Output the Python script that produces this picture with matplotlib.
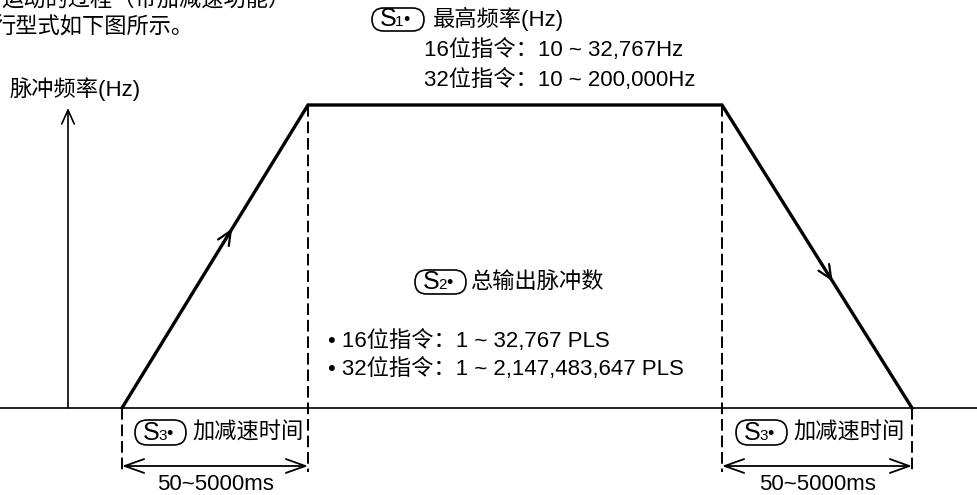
import matplotlib
matplotlib.use("Agg")
import matplotlib.pyplot as plt
from matplotlib.patches import FancyBboxPatch

plt.rcParams['font.family'] = ['Liberation Sans', 'Noto Sans CJK SC', 'DejaVu Sans']

# trapezoid speed profile (x in px, frequency as height above baseline in px)
profile_t = [122, 308, 722, 912]
profile_f = [0, 303, 303, 0]

s1_title = "最高频率(Hz)"
s1_lines = ["16位指令：10 ~ 32,767Hz", "32位指令：10 ~ 200,000Hz"]
s2_title = "总输出脉冲数"
s2_lines = ["• 16位指令：1 ~ 32,767 PLS", "• 32位指令：1 ~ 2,147,483,647 PLS"]
accel_label = "加减速时间"
accel_range = "50~5000ms"
y_label = "脉冲频率(Hz)"
intro_lines = ["运动的过程（带加减速功能）", "行型式如下图所示。"]

W, H = 978, 495
base = 408  # pixel row of baseline


def py(p):
    # convert a pixel row to the data y used below
    return base - p


fig = plt.figure(figsize=(W / 100, H / 100), dpi=100)
ax = fig.add_axes([0, 0, 1, 1])
ax.set_xlim(0, W)
ax.set_ylim(base - H, base)
ax.axis('off')

fs = 16

# baseline and vertical axis
ax.plot([0, W], [0, 0], color='black', lw=1.2)
ax.annotate('', xy=(68, py(108)), xytext=(68, 0),
            arrowprops=dict(arrowstyle='->,head_length=1.0,head_width=0.45', lw=1.2, color='black',
                            shrinkA=0, shrinkB=0))
ax.text(10, py(89), y_label, fontsize=fs, va='center', ha='left')

# trapezoid
ax.plot(profile_t, profile_f, color='black', lw=2.4, solid_joinstyle='miter')


# direction arrows on slopes
def slope_arrow(i, frac):
    x0, x1 = profile_t[i], profile_t[i + 1]
    y0, y1 = profile_f[i], profile_f[i + 1]
    xa = x0 + (x1 - x0) * frac
    ya = y0 + (y1 - y0) * frac
    dx, dy = (x1 - x0) * 0.02, (y1 - y0) * 0.02
    ax.annotate('', xy=(xa + dx, ya + dy), xytext=(xa - dx, ya - dy),
                arrowprops=dict(arrowstyle='->,head_length=1.0,head_width=0.45', lw=1.6, color='black'))


slope_arrow(0, 0.58)
slope_arrow(2, 0.57)

# dashed guide lines
dash = (0, (6, 2.5))
for x in profile_t[1:3]:
    ax.plot([x, x], [profile_f[1], py(472)], color='black', lw=1.4, linestyle=dash)
for x in (profile_t[0], profile_t[3]):
    ax.plot([x, x], [0, py(472)], color='black', lw=1.4, linestyle=dash)

# accel / decel spans
for a, b in ((profile_t[0], profile_t[1]), (profile_t[2], profile_t[3])):
    ax.annotate('', xy=(a, py(466)), xytext=(b, py(466)),
                arrowprops=dict(arrowstyle='<->,head_length=1.4,head_width=0.5', lw=1.3,
                                color='black', shrinkA=0, shrinkB=0))
    ax.text((a + b) / 2, py(484), accel_range, fontsize=fs, ha='center', va='center')


def tag(x0, top, w, h, num):
    # stadium shaped operand tag like (S1•)
    ax.add_patch(FancyBboxPatch((x0, py(top + h)), w, h,
                                boxstyle='round,pad=0,rounding_size=%g' % (h / 2),
                                fc='white', ec='black', lw=1.2))
    yb = py(top + h - 5)
    ax.text(x0 + 8, yb, "S", fontsize=fs + 2, ha='left', va='baseline')
    ax.text(x0 + 23, yb, num, fontsize=fs - 5, ha='left', va='baseline')
    ax.text(x0 + 31, yb + 1, "•", fontsize=fs - 3, ha='left', va='baseline')


# S3 labels
tag(135, 420, 51, 25, "3")
ax.text(192, py(433), accel_label, fontsize=fs, ha='left', va='center')
tag(736, 420, 51, 25, "3")
ax.text(793, py(433), accel_label, fontsize=fs, ha='left', va='center')

# S1 label
tag(372, 8, 52, 23, "1")
ax.text(433, py(19), s1_title, fontsize=fs, ha='left', va='center')
for i, s in enumerate(s1_lines):
    ax.text(424, py(50 + 30 * i), s, fontsize=fs, ha='left', va='center')

# S2 label
tag(415, 270, 51, 24, "2")
ax.text(470, py(282), s2_title, fontsize=fs, ha='left', va='center')
for i, s in enumerate(s2_lines):
    ax.text(328, py(341 + 28 * i), s, fontsize=fs, ha='left', va='center')

# cropped paragraph text at top-left
ax.text(290, py(0), intro_lines[0], fontsize=fs, ha='right', va='center')
ax.text(-7, py(28), intro_lines[1], fontsize=fs, ha='left', va='center')

fig.savefig("out.png", dpi=100)
